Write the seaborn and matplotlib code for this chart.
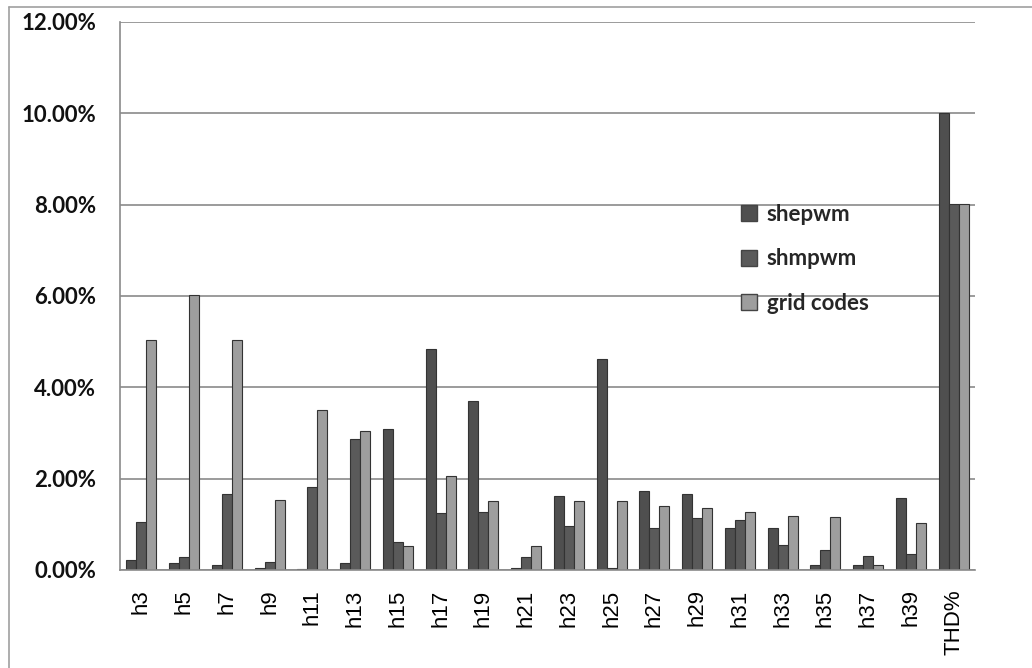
import matplotlib
matplotlib.use("Agg")
import matplotlib.pyplot as plt
import seaborn as sns
import pandas as pd
import numpy as np
from matplotlib.lines import Line2D
from matplotlib.ticker import FuncFormatter, FixedLocator

categories = ["h3", "h5", "h7", "h9", "h11", "h13", "h15", "h17", "h19", "h21",
              "h23", "h25", "h27", "h29", "h31", "h33", "h35", "h37", "h39", "THD%"]
shepwm = [0.22, 0.15, 0.10, 0.05, 0.03, 0.15, 3.08, 4.84, 3.70, 0.05,
          1.63, 4.63, 1.74, 1.67, 0.91, 0.91, 0.10, 0.10, 1.57, 10.00]
shmpwm = [1.05, 0.28, 1.67, 0.17, 1.82, 2.87, 0.62, 1.24, 1.27, 0.28,
          0.96, 0.05, 0.93, 1.13, 1.10, 0.54, 0.43, 0.30, 0.34, 8.02]
grid_codes = [5.03, 6.03, 5.03, 1.53, 3.50, 3.04, 0.53, 2.05, 1.51, 0.52,
              1.51, 1.51, 1.41, 1.35, 1.26, 1.19, 1.15, 0.10, 1.04, 8.02]
series_names = ["shepwm", "shmpwm", "grid codes"]
y_ticks = [0, 2, 4, 6, 8, 10, 12]

df = pd.DataFrame({
    "category": categories * 3,
    "series": sum([[s] * len(categories) for s in series_names], []),
    "value": shepwm + shmpwm + grid_codes,
})

colors = ["#4f4f4f", "#5a5a5a", "#9e9e9e"]

sns.set_style("white")
fig = plt.figure(figsize=(10.32, 6.68), dpi=100)
ax = fig.add_axes([120 / 1032, 98 / 668, 855 / 1032, 548 / 668])

sns.barplot(data=df, x="category", y="value", hue="series", order=categories,
            hue_order=series_names, palette=colors, width=0.7, gap=0,
            edgecolor="#333333", linewidth=0.8, saturation=1, ax=ax, legend=False)

ax.set_ylim(0, 12)
ax.set_xlim(-0.5, len(categories) - 0.5)
ax.yaxis.set_major_locator(FixedLocator(y_ticks))
ax.yaxis.set_major_formatter(FuncFormatter(lambda v, p: f"{v:.2f}%"))
ax.grid(axis="y", color="#8a8a8a", linewidth=1.2)
ax.set_axisbelow(True)
ax.set_xlabel("")
ax.set_ylabel("")

for s in ["top", "right"]:
    ax.spines[s].set_visible(False)
for s in ["left", "bottom"]:
    ax.spines[s].set_color("#8a8a8a")
    ax.spines[s].set_linewidth(1.2)

ax.tick_params(axis="y", which="major", length=7, width=1.2, color="#8a8a8a",
               direction="out", pad=10, labelsize=16, labelcolor="#111111")
for lbl in ax.get_yticklabels():
    lbl.set_fontfamily("Lato")
    lbl.set_fontweight("bold")

ax.set_xticks(range(len(categories)))
ax.set_xticklabels(categories, rotation=90, fontsize=16, fontfamily="Liberation Sans",
                   color="#000000")
ax.tick_params(axis="x", which="major", length=0, pad=14)
ax.set_xticks(np.arange(-0.5, len(categories), 1.0), minor=True)
ax.tick_params(axis="x", which="minor", length=7, width=1.2, color="#8a8a8a", direction="out")

handles = [Line2D([0], [0], marker="s", linestyle="none", markersize=11,
                  markerfacecolor=c, markeredgecolor="#444444") for c in colors]
ax.legend(handles, series_names, loc="upper left", bbox_to_anchor=(718 / 1032, 1 - 184 / 668),
          bbox_transform=fig.transFigure, frameon=False, labelspacing=1.05,
          handletextpad=0.3, handlelength=1.0, prop={"family": "Lato", "size": 16, "weight": "bold"})

# outer border of the chart area
fig.add_artist(Line2D([9 / 1032, 9 / 1032], [0, 1 - 7 / 668], transform=fig.transFigure,
                      color="#a0a0a0", linewidth=1.2))
fig.add_artist(Line2D([9 / 1032, 1], [1 - 7 / 668, 1 - 7 / 668], transform=fig.transFigure,
                      color="#a0a0a0", linewidth=1.2))

fig.savefig("out.png", dpi=100)
